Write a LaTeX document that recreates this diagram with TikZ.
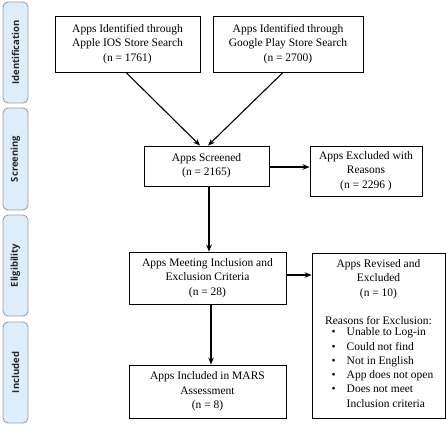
\documentclass[tikz,border=0pt]{standalone}
\usepackage{fontspec}
\setmainfont{Liberation Serif}
\newfontfamily\phasefont{Open Sans}
\usetikzlibrary{arrows.meta}
\definecolor{phasefill}{RGB}{221,237,250}
\definecolor{phaseborder}{RGB}{160,160,160}
\begin{document}
\begin{tikzpicture}[x=1pt,y=-1pt,
  phase/.style={draw=phaseborder, fill=phasefill, line width=0.9pt, rounded corners=5pt,
    rotate=90, minimum height=25, inner sep=0pt,
    font=\phasefont\bfseries\fontsize{9.5}{11}\selectfont, text=black!85},
  box/.style={draw, line width=0.9pt, inner sep=0pt, align=center,
    font=\fontsize{11.5}{14.3}\selectfont},
  arr/.style={line width=1.1pt, -{Stealth[length=7pt,width=5.5pt]}}]
\useasboundingbox (0,0) rectangle (447,425);
% phase bars
\node[phase, minimum width=101] (p1) at (15.5,52.5) {Identification};
\node[phase, minimum width=102] (p2) at (15.5,159) {Screening};
\node[phase, minimum width=101] (p3) at (15.5,265.5) {Eligibility};
\node[phase, minimum width=101] (p4) at (15.5,372.5) {Included};
% boxes
\node[box, minimum width=145, minimum height=56] (A) at (127.5,44)
  {Apps Identified through\\Apple IOS Store Search\\(n = 1761)};
\node[box, minimum width=150, minimum height=56] (B) at (288,44)
  {Apps Identified through\\Google Play Store Search\\(n = 2700)};
\node[box, minimum width=125, minimum height=40] (S) at (206.5,166)
  {Apps Screened\\(n = 2165)};
\node[box, minimum width=112, minimum height=50] (E) at (366,171)
  {Apps Excluded with\\Reasons\\(n = 2296 )};
\node[box, minimum width=157, minimum height=52] (M) at (207.5,278)
  {Apps Meeting Inclusion and\\Exclusion Criteria\\(n = 28)};
\node[box, minimum width=133, minimum height=165] (R) at (378.5,335.5)
  {Apps Revised and\\Excluded\\(n = 10)\\[14.3pt]
   Reasons for Exclusion:\\
   \begin{tabular}{@{\hspace{8pt}}l@{\hspace{11pt}}l@{}}
   \textbullet & Unable to Log-in\\
   \textbullet & Could not find\\
   \textbullet & Not in English\\
   \textbullet & App does not open\\
   \textbullet & Does not meet\\
               & Inclusion criteria
   \end{tabular}};
\node[box, minimum width=157, minimum height=53] (F) at (207.5,391.5)
  {Apps Included in MARS\\Assessment\\(n = 8)};
% connectors
\draw[arr] ([xshift=-1.5pt]A.south) -- ([xshift=-6.5pt]S.north);
\draw[arr] ([xshift=-5pt]B.south) -- ([xshift=1.5pt]S.north);
\draw[arr] ([yshift=-1pt]S.east) -- ([yshift=-1pt]S.east -| E.west);
\draw[arr] ([xshift=2.5pt]S.south) -- ([xshift=2.5pt]S.south |- M.north);
\draw[arr] ([yshift=3pt]M.east) -- ([yshift=3pt]M.east -| R.west);
\draw[arr] ([xshift=3.5pt]M.south) -- ([xshift=3.5pt]M.south |- F.north);
\end{tikzpicture}
\end{document}
